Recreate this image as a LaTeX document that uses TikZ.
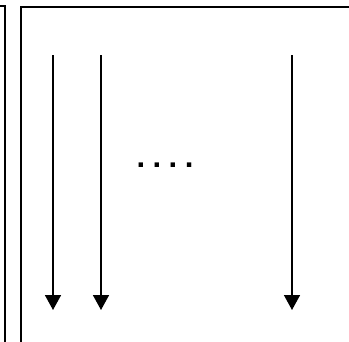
\documentclass[tikz,border=0pt]{standalone}
\usepackage{fontspec}
\setmainfont{Liberation Sans}
\usetikzlibrary{arrows.meta,positioning}
\tikzset{
  panel/.style={draw=black, line width=1.6pt},
  flow/.style={-{Triangle[length=15pt,width=16pt]}, line width=1.6pt, color=black},
  ellipsis/.style={font=\fontsize{31}{31}\selectfont\bfseries, inner sep=0pt}
}
\begin{document}
\begin{tikzpicture}[x=1pt, y=-1pt]
  \useasboundingbox (0,0) rectangle (349,341);

  % the two frames, cut by the page edge
  \draw[panel] (-40,6) rectangle (5,380);
  \draw[panel] (21,7) rectangle (400,380);

  \coordinate (top1) at (53,55);
  \coordinate (bot1) at (53,310);
  \coordinate (top2) at (101,55);
  \coordinate (bot2) at (101,310);
  \coordinate (topN) at (292,55);
  \coordinate (botN) at (292,310);

  \node[ellipsis] (dots) at (165,165) {.\kern0.24em.\kern0.24em.\kern0.24em.};

  \draw[flow] (top1) -- (bot1);
  \draw[flow] (top2) -- (bot2);
  \draw[flow] (topN) -- (botN);
\end{tikzpicture}
\end{document}
